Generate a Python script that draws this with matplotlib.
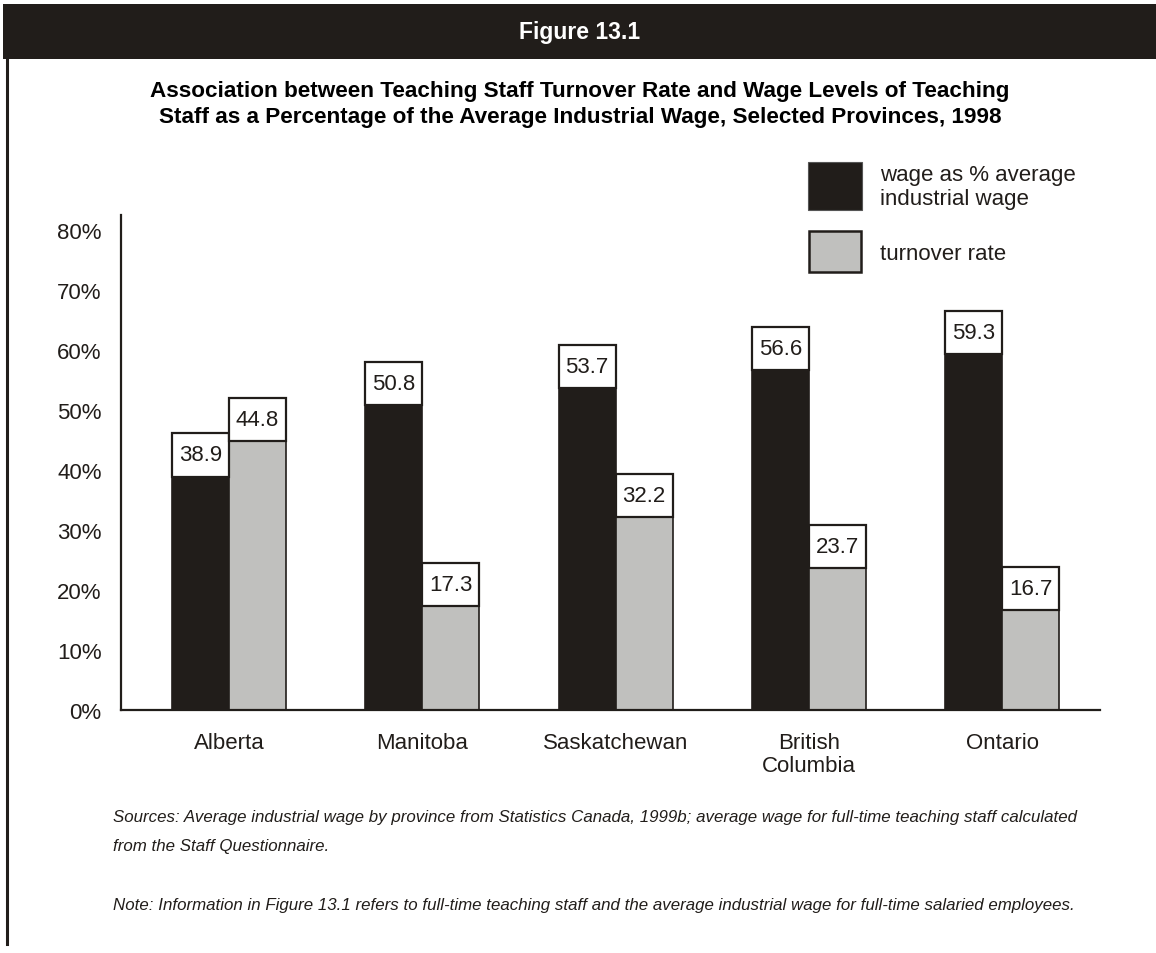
import matplotlib
matplotlib.use("Agg")
import matplotlib.pyplot as plt
from matplotlib.patches import Rectangle
from matplotlib.lines import Line2D

provinces = ["Alberta", "Manitoba", "Saskatchewan", "British\nColumbia", "Ontario"]
wage_pct = [38.9, 50.8, 53.7, 56.6, 59.3]
turnover = [44.8, 17.3, 32.2, 23.7, 16.7]
y_ticks = [0, 10, 20, 30, 40, 50, 60, 70, 80]

DARK = "#211d1a"
GREY = "#c0c0be"

plt.rcParams["font.family"] = ["Liberation Sans", "DejaVu Sans"]

W, H = 1156, 954
fig = plt.figure(figsize=(W / 100, H / 100), dpi=100)

# header band and left rule
fig.patches.append(Rectangle((3 / W, 1 - 60 / H), 1, 55 / H, transform=fig.transFigure,
                             facecolor=DARK, edgecolor="none"))
fig.lines.append(Line2D([6.5 / W, 6.5 / W], [1 - 945 / H, 1 - 58 / H], transform=fig.transFigure,
                        color=DARK, lw=2.2))
fig.text(580 / W, 1 - 32 / H, "Figure 13.1", color="white", fontsize=16.5, fontweight="bold",
         ha="center", va="center")

fig.text(580 / W, 1 - 92 / H,
         "Association between Teaching Staff Turnover Rate and Wage Levels of Teaching",
         fontsize=16.2, fontweight="bold", ha="center", va="center", color="black")
fig.text(580 / W, 1 - 117 / H,
         "Staff as a Percentage of the Average Industrial Wage, Selected Provinces, 1998",
         fontsize=16.2, fontweight="bold", ha="center", va="center", color="black")

ax = fig.add_axes([121 / W, 1 - 711 / H, (1100 - 121) / W, (711 - 216) / H])
x = list(range(len(provinces)))
bw = 0.295
box_h = 7.2

dark_x = [i - bw / 2 for i in x]
grey_x = [i + bw / 2 for i in x]
ax.bar(dark_x, wage_pct, width=bw, color=DARK, edgecolor=DARK, linewidth=1.2)
ax.bar(grey_x, turnover, width=bw, color=GREY, edgecolor=DARK, linewidth=1.2)

# value boxes sitting on top of each bar
for xs, vals in ((dark_x, wage_pct), (grey_x, turnover)):
    ax.bar(xs, [box_h] * len(vals), bottom=vals, width=bw, color="white",
           edgecolor=DARK, linewidth=1.6)
    for xi, v in zip(xs, vals):
        ax.text(xi, v + box_h / 2, f"{v:.1f}", ha="center", va="center", fontsize=16,
                color=DARK)

ax.set_xlim(-0.559, 4.507)
ax.set_ylim(0, 82.5)
ax.set_yticks(y_ticks)
ax.set_yticklabels([f"{t}%" for t in y_ticks], fontsize=16, color=DARK)
ax.set_xticks(x)
ax.set_xticklabels(provinces, fontsize=16, color=DARK, linespacing=1.1)
ax.tick_params(axis="both", length=0)
ax.tick_params(axis="y", pad=14)
ax.tick_params(axis="x", pad=16)
for s in ("top", "right"):
    ax.spines[s].set_visible(False)
for s in ("left", "bottom"):
    ax.spines[s].set_linewidth(1.6)
    ax.spines[s].set_color(DARK)

# legend drawn by hand at the upper right
fig.patches.append(Rectangle((808 / W, 1 - 211 / H), 54 / W, 48 / H, transform=fig.transFigure,
                             facecolor=DARK, edgecolor="#555", lw=0.8))
fig.patches.append(Rectangle((809 / W, 1 - 273 / H), 52 / W, 41 / H, transform=fig.transFigure,
                             facecolor=GREY, edgecolor=DARK, lw=1.8))
fig.text(880 / W, 1 - 175 / H, "wage as % average", fontsize=16, va="center", color=DARK)
fig.text(880 / W, 1 - 200 / H, "industrial wage", fontsize=16, va="center", color=DARK)
fig.text(880 / W, 1 - 255 / H, "turnover rate", fontsize=16, va="center", color=DARK)

note_kw = dict(fontsize=12.2, style="italic", va="center", color=DARK)
fig.text(113 / W, 1 - 818 / H,
         "Sources: Average industrial wage by province from Statistics Canada, 1999b; average wage "
         "for full-time teaching staff calculated", **note_kw)
fig.text(113 / W, 1 - 847 / H, "from the Staff Questionnaire.", **note_kw)
fig.text(113 / W, 1 - 906 / H,
         "Note: Information in Figure 13.1 refers to full-time teaching staff and the average "
         "industrial wage for full-time salaried employees.", **note_kw)

fig.savefig("out.png", dpi=100, facecolor="white")
